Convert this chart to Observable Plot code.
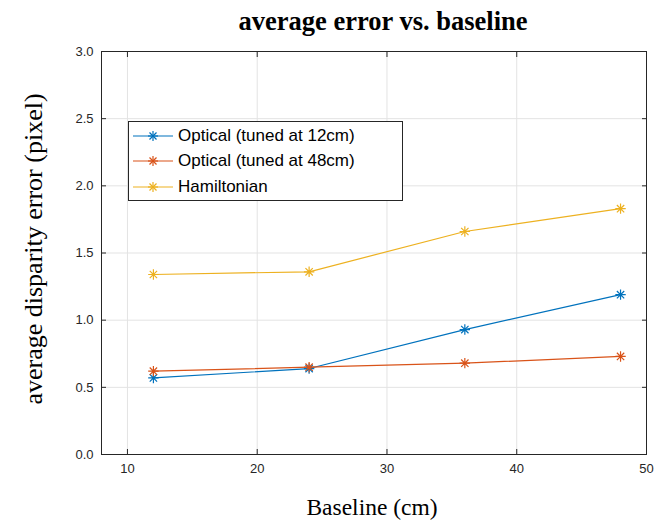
<!DOCTYPE html>
<html>
<head>
<meta charset="utf-8">
<script src="https://cdn.jsdelivr.net/npm/d3@7"></script>
<script src="https://cdn.jsdelivr.net/npm/@observablehq/plot@0.6"></script>
<style>
  body { margin: 0; background: #fff; }
  #wrap { position: relative; width: 654px; height: 521px; }
  #legend { position: absolute; left: 128px; top: 121px; width: 273px; height: 77px;
    border: 1px solid #262626; background: #fff; font-family: "Liberation Sans", Arial, sans-serif;
    font-size: 17px; color: #000; padding-top: 1px; box-sizing: content-box; }
  .row { display: flex; align-items: center; height: 25.5px; }
  .row svg { margin-left: 4px; margin-right: 5px; }
</style>
</head>
<body>
<div id="wrap"><div id="legend"></div></div>
<script>
const baseline = [12, 24, 36, 48];
const seriesNames = ["Optical (tuned at 12cm)", "Optical (tuned at 48cm)", "Hamiltonian"];
const opticalTuned12 = [0.57, 0.64, 0.93, 1.19];
const opticalTuned48 = [0.62, 0.65, 0.68, 0.73];
const hamiltonian = [1.34, 1.36, 1.66, 1.83];
const seriesColors = ["#0072BD", "#D95319", "#EDB120"];
const xTicks = [10, 20, 30, 40, 50];
const yTicks = [0, 0.5, 1.0, 1.5, 2.0, 2.5, 3.0];

const seriesValues = [opticalTuned12, opticalTuned48, hamiltonian];
const data = [];
seriesNames.forEach((name, i) => {
  baseline.forEach((b, j) => data.push({series: name, baseline: b, error: seriesValues[i][j]}));
});

// MATLAB-style 8-spoke asterisk
const asterisk8 = {
  draw(context, size) {
    const r = Math.sqrt(size / Math.PI) * 1.3;
    const d = r * Math.SQRT1_2;
    context.moveTo(-r, 0); context.lineTo(r, 0);
    context.moveTo(0, -r); context.lineTo(0, r);
    context.moveTo(-d, -d); context.lineTo(d, d);
    context.moveTo(-d, d); context.lineTo(d, -d);
  }
};

const axisColor = "#262626";
const gridColor = "#e3e3e3";
const serif = "'Liberation Serif', 'Times New Roman', serif";

const chart = Plot.plot({
  width: 654,
  height: 521,
  marginLeft: 101,
  marginRight: 8,
  marginTop: 51,
  marginBottom: 67,
  style: {fontFamily: "'Liberation Sans', Arial, sans-serif", fontSize: "13px", color: axisColor, background: "#fff"},
  x: {domain: [8, 50], ticks: xTicks, label: null},
  y: {domain: [0, 3], ticks: yTicks, label: null},
  color: {domain: seriesNames, range: seriesColors},
  marks: [
    Plot.gridX(xTicks, {stroke: gridColor, strokeOpacity: 1}),
    Plot.gridY(yTicks, {stroke: gridColor, strokeOpacity: 1}),
    Plot.frame({stroke: axisColor, strokeWidth: 1}),
    Plot.axisX(xTicks, {anchor: "bottom", tickSize: -5, tickFormat: () => "", stroke: axisColor, label: null}),
    Plot.axisX(xTicks, {anchor: "top", tickSize: -5, tickFormat: () => "", stroke: axisColor, label: null}),
    Plot.axisY(yTicks, {anchor: "left", tickSize: -5, tickFormat: () => "", stroke: axisColor, label: null}),
    Plot.axisY(yTicks, {anchor: "right", tickSize: -5, tickFormat: () => "", stroke: axisColor, label: null}),
    Plot.axisX(xTicks, {anchor: "bottom", tickSize: 0, tickPadding: 9, fill: axisColor, label: null, fontSize: 13}),
    Plot.axisY(yTicks, {anchor: "left", tickSize: 0, tickPadding: 8, tickFormat: d3.format(".1f"), fill: axisColor, label: null, fontSize: 13}),
    Plot.line(data, {x: "baseline", y: "error", z: "series", stroke: "series", strokeWidth: 1.2}),
    Plot.dot(data, {x: "baseline", y: "error", stroke: "series", symbol: asterisk8, r: 4, strokeWidth: 1.2}),
    Plot.text(["average error vs. baseline"], {frameAnchor: "top", lineAnchor: "middle", dx: 9, dy: -30, fontFamily: serif, fontWeight: "bold", fontSize: 26.5, fill: "#000"}),
    Plot.text(["Baseline (cm)"], {frameAnchor: "bottom", lineAnchor: "middle", dx: -2, dy: 53, fontFamily: serif, fontSize: 23.5, fill: "#000"}),
    Plot.text(["average disparity error (pixel)"], {frameAnchor: "left", textAnchor: "middle", lineAnchor: "middle", dx: -68, dy: -4, rotate: -90, fontFamily: serif, fontSize: 26, fill: "#000"})
  ]
});
document.getElementById("wrap").prepend(chart);

const legend = document.getElementById("legend");
seriesNames.forEach((name, i) => {
  const row = document.createElement("div");
  row.className = "row";
  const c = seriesColors[i];
  row.innerHTML = `<svg width="40" height="12" viewBox="0 0 40 12">
    <line x1="0" y1="6" x2="40" y2="6" stroke="${c}" stroke-width="1.2"/>
    <g stroke="${c}" stroke-width="1.2" transform="translate(20,6)">
      <line x1="-5" y1="0" x2="5" y2="0"/><line x1="0" y1="-5" x2="0" y2="5"/>
      <line x1="-3.5" y1="-3.5" x2="3.5" y2="3.5"/><line x1="-3.5" y1="3.5" x2="3.5" y2="-3.5"/>
    </g></svg><span>${name}</span>`;
  legend.appendChild(row);
});
</script>
</body>
</html>
